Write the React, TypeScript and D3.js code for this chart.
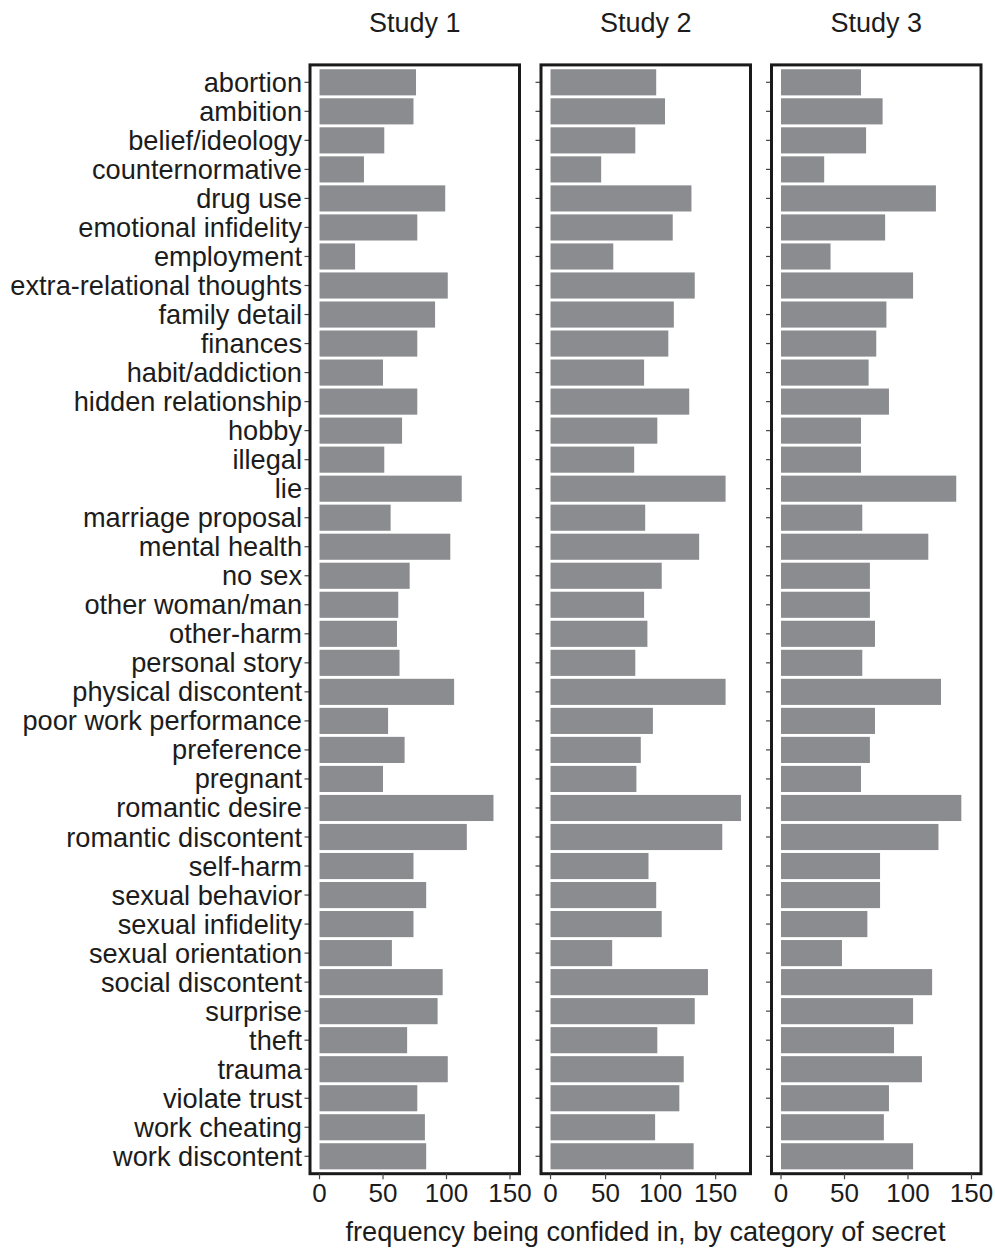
import React from "react";
import * as d3 from "d3";

const categories = [
  "abortion", "ambition", "belief/ideology", "counternormative", "drug use",
  "emotional infidelity", "employment", "extra-relational thoughts", "family detail",
  "finances", "habit/addiction", "hidden relationship", "hobby", "illegal", "lie",
  "marriage proposal", "mental health", "no sex", "other woman/man", "other-harm",
  "personal story", "physical discontent", "poor work performance", "preference",
  "pregnant", "romantic desire", "romantic discontent", "self-harm", "sexual behavior",
  "sexual infidelity", "sexual orientation", "social discontent", "surprise", "theft",
  "trauma", "violate trust", "work cheating", "work discontent",
];

const study1 = [76, 74, 51, 35, 99, 77, 28, 101, 91, 77, 50, 77, 65, 51, 112, 56, 103, 71, 62, 61, 63, 106, 54, 67, 50, 137, 116, 74, 84, 74, 57, 97, 93, 69, 101, 77, 83, 84];
const study2 = [96, 104, 77, 46, 128, 111, 57, 131, 112, 107, 85, 126, 97, 76, 159, 86, 135, 101, 85, 88, 77, 159, 93, 82, 78, 173, 156, 89, 96, 101, 56, 143, 131, 97, 121, 117, 95, 130];
const study3 = [63, 80, 67, 34, 122, 82, 39, 104, 83, 75, 69, 85, 63, 63, 138, 64, 116, 70, 70, 74, 64, 126, 74, 70, 63, 142, 124, 78, 78, 68, 48, 119, 104, 89, 111, 85, 81, 104];

const panelTitles = ["Study 1", "Study 2", "Study 3"];
const panelMax = [150, 173, 150];
const xTicks = [0, 50, 100, 150];
const xTitle = "frequency being confided in, by category of secret";

const W = 995;
const H = 1249;
const panelTop = 64.9;
const panelBottom = 1173.7;
const panelW = 209.5;
const panelLefts = [310, 541, 771.5];
const FONT = "'Liberation Sans', Arial, Helvetica, sans-serif";
const textColor = "#1c1c1c";
const barColor = "#8b8c90";

export default function App() {
  const series = [study1, study2, study3];
  const y = d3
    .scaleBand<string>()
    .domain(categories)
    .range([panelTop, panelBottom])
    .paddingInner(0.1)
    .paddingOuter(0.15);

  return (
    <svg
      width={W}
      height={H}
      style={{ position: "absolute", left: 0, top: 0, background: "#fff" }}
      fontFamily={FONT}
    >
      <rect x={0} y={0} width={W} height={H} fill="#fff" />
      {categories.map((c) => (
        <text
          key={c}
          x={302}
          y={(y(c) as number) + y.bandwidth() / 2}
          dy="0.35em"
          textAnchor="end"
          fontSize={27.2}
          fill={textColor}
        >
          {c}
        </text>
      ))}
      {series.map((vals, pi) => {
        const left = panelLefts[pi];
        const M = panelMax[pi];
        const x = d3
          .scaleLinear()
          .domain([-0.05 * M, 1.05 * M])
          .range([left, left + panelW]);
        return (
          <g key={pi}>
            <text
              x={left + panelW / 2}
              y={31.5}
              textAnchor="middle"
              fontSize={27}
              fill={textColor}
            >
              {panelTitles[pi]}
            </text>
            {categories.map((c) => {
              const cy = (y(c) as number) + y.bandwidth() / 2;
              return (
                <line
                  key={c}
                  x1={left - 5.5}
                  x2={left}
                  y1={cy}
                  y2={cy}
                  stroke="#444"
                  strokeWidth={1.2}
                />
              );
            })}
            {vals.map((v, i) => (
              <rect
                key={i}
                x={x(0)}
                y={y(categories[i]) as number}
                width={x(v) - x(0)}
                height={y.bandwidth()}
                fill={barColor}
              />
            ))}
            <rect
              x={left}
              y={panelTop}
              width={panelW}
              height={panelBottom - panelTop}
              fill="none"
              stroke="#1a1a1a"
              strokeWidth={3}
            />
            {xTicks.map((t) => (
              <g key={t}>
                <line
                  x1={x(t)}
                  x2={x(t)}
                  y1={panelBottom}
                  y2={panelBottom + 5.5}
                  stroke="#444"
                  strokeWidth={1.2}
                />
                <text
                  x={x(t)}
                  y={1201.5}
                  textAnchor="middle"
                  fontSize={26}
                  fill={textColor}
                >
                  {t}
                </text>
              </g>
            ))}
          </g>
        );
      })}
      <text
        x={(panelLefts[0] + panelLefts[2] + panelW) / 2}
        y={1241}
        textAnchor="middle"
        fontSize={27.2}
        fill={textColor}
      >
        {xTitle}
      </text>
    </svg>
  );
}
